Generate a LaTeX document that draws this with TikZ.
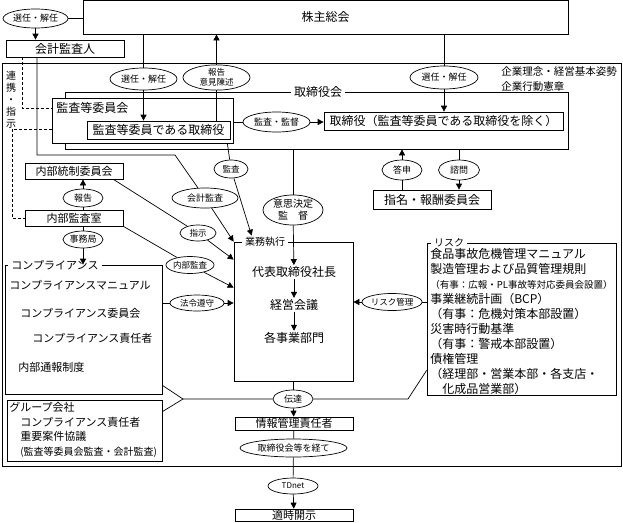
\documentclass[tikz,border=0pt]{standalone}
\usepackage{fontspec}
\setmainfont{Noto Sans CJK JP}
\usetikzlibrary{arrows.meta,shapes.geometric,positioning}
\newcommand{\setfs}[2]{\fontsize{#1pt}{#2pt}\selectfont}
\tikzset{
  box/.style={
      rectangle,
      draw,
      inner sep=0pt,
      font=\setfs{12}{14}
  },
  frame/.style={
      rectangle,
      draw,
      inner sep=0pt
  },
  frametitle/.style={
      fill=white,
      inner xsep=3pt,
      inner ysep=1pt
  },
  tag/.style={
      ellipse,
      draw,
      fill=white,
      inner sep=0pt,
      font=\setfs{9}{10.5}
  },
  txt/.style={
      inner sep=1pt,
      font=\setfs{12}{14}
  },
  renkei/.style={densely dashed}
}

\begin{document}
\begin{tikzpicture}[x=1pt,y=-1pt,line width=0.7pt,>={Triangle[length=6pt,width=6pt]}]
  \useasboundingbox (0,0) rectangle (623,522);
  \node[frame, minimum width=619pt, minimum height=403pt] (company) at (311.5,264.5) {};
  \node[box, minimum width=485pt, minimum height=34pt] (soukai) at (325.5,17) {株主総会};
  \node[tag, minimum width=65pt, minimum height=19pt] (e_sennin1) at (35.5,18.5) {選任・解任};
  \node[box, minimum width=118pt, minimum height=17pt] (kaikei) at (65,48.5) {会計監査人};
  \node[txt, anchor=north west, align=left, font=\setfs{10.5}{15}] (rinen) at (500,65) {企業理念・経営基本姿勢\\企業行動憲章};
  \node[txt, align=center, font=\setfs{10}{12}] (renkei_t) at (11,100) {連\\携\\・\\指\\示};

  \node[frame, minimum width=503pt, minimum height=57pt] (board) at (316.5,120.5) {};
  \node[frametitle, font=\setfs{12}{14}] (board_t) at (318,92) {取締役会};
  \node[frame, fill=white, minimum width=181pt, minimum height=45pt] (kansa_iinkai) at (142.5,120.5) {};
  \node[txt, anchor=west] (kansa_iinkai_t) at (55,108) {監査等委員会};
  \node[box, fill=white, minimum width=143pt, minimum height=18pt] (kansa_tori) at (158.5,130) {監査等委員である取締役};
  \node[box, minimum width=239pt, minimum height=18pt] (tori) at (443.5,121) {取締役（監査等委員である取締役を除く）};
  \node[tag, minimum width=67pt, minimum height=22pt] (e_sennin2) at (143.5,79) {選任・解任};
  \node[tag, align=center, font=\setfs{8.5}{10}, minimum width=67pt, minimum height=25pt] (e_houkoku) at (216.5,77.5) {報告\\意見陳述};
  \node[tag, minimum width=68pt, minimum height=23pt] (e_sennin3) at (444,77.5) {選任・解任};
  \node[tag, minimum width=67pt, minimum height=20pt] (e_kansakantoku) at (276.5,122) {監査・監督};
  \node[tag, minimum width=40pt, minimum height=20pt] (e_toushin) at (402,170) {答申};
  \node[tag, minimum width=41pt, minimum height=20pt] (e_shimon) at (459,170) {諮問};
  \node[box, minimum width=118pt, minimum height=19pt] (shimei) at (432,199.5) {指名・報酬委員会};

  \node[box, font=\setfs{11}{13}, minimum width=98pt, minimum height=16pt] (naibutousei) at (74,171) {内部統制委員会};
  \node[tag, minimum width=40pt, minimum height=18pt] (e_houkoku2) at (83,198) {報告};
  \node[box, font=\setfs{11}{13}, minimum width=98pt, minimum height=16pt] (naibukansa) at (74,218) {内部監査室};
  \node[tag, minimum width=40pt, minimum height=17pt] (e_jimukyoku) at (83,239.5) {事務局};
  \node[tag, minimum width=66pt, minimum height=20pt] (e_kaikeikansa) at (205,198) {会計監査};
  \node[tag, font=\setfs{8.5}{10}, minimum width=36pt, minimum height=16pt] (e_shiji) at (198,233) {指示};
  \node[tag, font=\setfs{8.5}{10}, minimum width=46pt, minimum height=17pt] (e_naibukansa) at (190,265) {内部監査};
  \node[tag, font=\setfs{8.5}{10}, minimum width=34pt, minimum height=18pt] (e_kansa) at (231,169) {監査};
  \node[tag, align=center, font=\setfs{10}{12}, minimum width=60pt, minimum height=30pt] (e_ishikettei) at (293,210) {意思決定\\監　督};

  \node[frame, minimum width=119pt, minimum height=139pt] (gyomu) at (293.5,311.5) {};
  \node[frametitle, font=\setfs{10}{12}] (gyomu_t) at (265,242) {業務執行};
  \node[txt] (shacho) at (294,272) {代表取締役社長};
  \node[txt, below=19pt of shacho] (keiei) {経営会議};
  \node[txt, below=19pt of keiei] (jigyou) {各事業部門};
  \node[tag, font=\setfs{8.5}{10}, minimum width=54pt, minimum height=16pt] (e_hourei) at (197,303) {法令遵守};

  \node[frame, minimum width=157pt, minimum height=129pt] (compliance) at (83.5,329.5) {};
  \node[frametitle, font=\setfs{11}{13}] (compliance_t) at (55,265) {コンプライアンス};
  \node[txt, anchor=west, font=\setfs{11}{13}] (c_manual) at (8,285) {コンプライアンスマニュアル};
  \node[txt, anchor=west, font=\setfs{11}{13}] (c_iinkai) at (19,313) {コンプライアンス委員会};
  \node[txt, anchor=west, font=\setfs{11}{13}] (c_sekinin) at (31,338) {コンプライアンス責任者};
  \node[txt, anchor=west, font=\setfs{11}{13}] (c_tsuhou) at (17,367) {内部通報制度};

  \node[frame, minimum width=155pt, minimum height=61pt] (group) at (84.5,430.5) {};
  \node[txt, anchor=north west, align=left, font=\setfs{11}{14.5}] (group_t) at (8,401) {グループ会社\\\hspace{1em}コンプライアンス責任者\\\hspace{1em}重要案件協議\\\hspace{1em}{\setfs{10}{14.5}(監査等委員会監査・会計監査)}};

  \node[frame, minimum width=189pt, minimum height=152pt] (risk) at (521.5,319) {};
  \node[frametitle, font=\setfs{10}{12}] (risk_t) at (449,243) {リスク};
  \node[txt, anchor=north west, align=left, font=\setfs{12}{15}] (risk_items) at (429,247) {食品事故危機管理マニュアル\\製造管理および品質管理規則\\{\setfs{9.5}{15}（有事：広報・PL事故等対応委員会設置）}\\事業継続計画（BCP）\\（有事：危機対策本部設置）\\災害時行動基準\\（有事：警戒本部設置）\\債権管理\\（経理部・営業本部・各支店・\\\hspace{1em}化成品営業部）};
  \node[tag, font=\setfs{8.5}{10}, minimum width=51pt, minimum height=17pt] (e_riskkanri) at (392,302) {リスク管理};

  \node[tag, minimum width=40pt, minimum height=18pt] (e_dentatsu) at (293,399) {伝達};
  \node[box, font=\setfs{11}{13}, minimum width=118pt, minimum height=13pt] (jouhou) at (294,423.5) {情報管理責任者};
  \node[tag, minimum width=107pt, minimum height=18pt] (e_keite) at (293.5,448) {取締役会等を経て};
  \node[tag, font=\setfs{8}{10}, minimum width=50pt, minimum height=16pt] (e_tdnet) at (293,486) {TDnet};
  \node[box, font=\setfs{11}{13}, minimum width=118pt, minimum height=12pt] (tekiji) at (294,515) {適時開示};

  \coordinate (kaikei_turn) at (37,155);
  \coordinate (kaikei_bend) at (175,155);
  \coordinate (rd1) at (22,108);
  \coordinate (rd2) at (12,129);
  \coordinate (rd3) at (12,218);
  \coordinate (jl) at (183,399);
  \coordinate (jr) at (408,399);

  \draw (e_sennin1) -- (soukai.west |- e_sennin1);
  \draw[->] (e_sennin1) -- (e_sennin1 |- kaikei.north);
  \draw (soukai.south -| e_sennin2) -- (e_sennin2);
  \draw[->] (e_sennin2) -- (kansa_tori.north -| e_sennin2);
  \draw[->] (e_houkoku) -- (soukai.south -| e_houkoku);
  \draw (kansa_tori.north -| e_houkoku) -- (e_houkoku);
  \draw (soukai.south -| e_sennin3) -- (e_sennin3);
  \draw[->] (e_sennin3) -- (tori.north -| e_sennin3);
  \draw (kansa_iinkai.east |- e_kansakantoku) -- (e_kansakantoku);
  \draw[->] (e_kansakantoku) -- (tori.west |- e_kansakantoku);
  \draw (shimei.north -| e_toushin) -- (e_toushin);
  \draw[->] (e_toushin) -- (board.south -| e_toushin);
  \draw (board.south -| e_shimon) -- (e_shimon);
  \draw[->] (e_shimon) -- (shimei.north -| e_shimon);
  \draw (board.south -| e_ishikettei) -- (e_ishikettei);
  \draw[->] (e_ishikettei) -- (shacho);
  \draw[->] (shacho) -- (keiei);
  \draw[->] (keiei) -- (jigyou);

  \draw[renkei] (kaikei.south -| rd1) -- (rd1) -- (kansa_iinkai.west |- rd1);
  \draw[renkei] (kansa_iinkai.west |- rd2) -- (rd2) -- (rd3) -- (naibukansa.west |- rd3);
  \draw (kaikei.south -| kaikei_turn) -- (kaikei_turn) -- (kaikei_bend) -- (e_kaikeikansa);
  \draw[->] (e_kaikeikansa) -- (gyomu.north west);
  \draw ([xshift=-6pt]kansa_iinkai.south east) -- (e_kansa);
  \draw[->] (e_kansa) -- ([xshift=18pt,yshift=6pt]gyomu.north west);
  \draw ([xshift=-10pt]naibutousei.south east) -- (e_shiji);
  \draw[->] (e_shiji) -- ([yshift=-18pt]gyomu.north west);
  \draw (naibukansa.south east) -- (e_naibukansa);
  \draw[->] (e_naibukansa) -- ([yshift=-46pt]gyomu.north west);
  \draw (naibukansa.north -| e_houkoku2) -- (e_houkoku2);
  \draw[->] (e_houkoku2) -- (naibutousei.south -| e_houkoku2);
  \draw (naibukansa.south -| e_jimukyoku) -- (e_jimukyoku);
  \draw[->] (e_jimukyoku) -- (compliance.north -| e_jimukyoku);
  \draw (compliance.east |- e_hourei) -- (e_hourei);
  \draw[->] (e_hourei) -- (gyomu.west |- e_hourei);
  \draw (risk.west |- e_riskkanri) -- (e_riskkanri);
  \draw[->] (e_riskkanri) -- (gyomu.east |- e_riskkanri);

  \draw ([yshift=9pt]compliance.south east) -- (jl) -- ([yshift=-12pt]group.north east);
  \draw (jl) -- (e_dentatsu) -- (jr) -- ([yshift=25pt]risk.south west);
  \draw (gyomu.south -| e_dentatsu) -- (e_dentatsu);
  \draw[->] (e_dentatsu) -- (jouhou);
  \draw (jouhou) -- (e_keite) -- (e_tdnet);
  \draw[->] (e_tdnet) -- (tekiji);
\end{tikzpicture}
\end{document}
